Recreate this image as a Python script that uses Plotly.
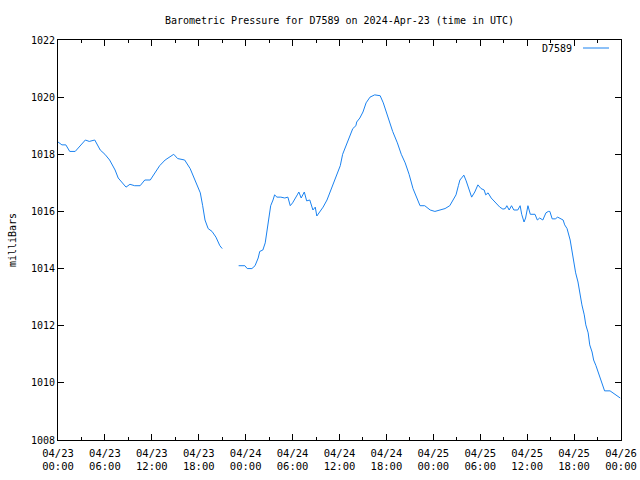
import plotly.graph_objects as go
import pandas as pd

# hours since 2024-04-23 00:00 UTC and pressure (mbar); None marks data gap
hours = [0, 0.5, 1.0, 1.5, 2.2, 2.8, 3.5, 4.0, 4.7, 5.4, 6.0, 6.6, 7.3, 7.7, 8.2, 8.7, 9.2, 9.8,
         10.5, 11.1, 11.8, 12.4, 13.0, 13.7, 14.3, 14.8, 15.3, 16.2, 16.9, 17.5, 18.2, 18.5,
         18.8, 19.2, 19.7, 20.2, 20.7, 21.0, 22.0,
         23.1, 23.9, 24.2, 24.8, 25.2, 25.6, 25.8, 26.2, 26.5, 26.7, 27.0, 27.2, 27.5, 27.7,
         28.0, 28.5, 29.0, 29.4, 29.7, 30.0, 30.6, 30.8, 31.1, 31.5, 31.8, 32.2, 32.6, 32.9,
         33.1, 33.5, 33.9, 34.4, 34.9, 35.4, 36.1, 36.4, 37.0, 37.3, 37.7, 38.1, 38.2, 38.6,
         39.0, 39.4, 39.9, 40.5, 41.2, 41.6, 42.1, 42.5, 42.8, 43.4, 43.9, 44.4, 44.9, 45.4,
         45.9, 46.3, 46.9, 47.6, 48.2, 48.8, 49.5, 50.1, 50.5, 50.9, 51.2, 51.4, 51.7, 51.9,
         52.2, 52.6, 52.9, 53.3, 53.7, 54.1, 54.5, 54.7, 55.0, 55.4, 55.9, 56.5, 56.9, 57.2,
         57.4, 57.7, 58.0, 58.3, 58.8, 59.1, 59.3, 59.6, 59.8, 60.1, 60.4, 61.0, 61.3, 61.6,
         62.0, 62.4, 62.7, 62.9, 63.2, 63.6, 63.9, 64.3, 64.6, 64.8, 65.1, 65.5, 65.7, 66.0,
         66.2, 66.5, 66.8, 67.0, 67.3, 67.5, 67.8, 68.0, 68.3, 68.5, 68.8, 69.0, 69.3, 69.5,
         69.9, 70.6, 71.2, 71.9]
pressure = [1018.43, 1018.33, 1018.33, 1018.1, 1018.1, 1018.3, 1018.5, 1018.45, 1018.5, 1018.15,
            1018.0, 1017.8, 1017.45, 1017.17, 1017.0, 1016.85, 1016.95, 1016.9, 1016.9, 1017.1,
            1017.1, 1017.35, 1017.6, 1017.8, 1017.9, 1018.0, 1017.85, 1017.8, 1017.5, 1017.1,
            1016.65, 1016.2, 1015.7, 1015.4, 1015.3, 1015.1, 1014.8, 1014.7, None,
            1014.1, 1014.1, 1014.0, 1014.0, 1014.1, 1014.37, 1014.6, 1014.65, 1014.9, 1015.3,
            1015.9, 1016.2, 1016.4, 1016.58, 1016.5, 1016.5, 1016.47, 1016.5, 1016.2, 1016.3,
            1016.58, 1016.68, 1016.47, 1016.68, 1016.37, 1016.4, 1016.05, 1016.15, 1015.84,
            1016.0, 1016.15, 1016.4, 1016.75, 1017.1, 1017.6, 1018.0, 1018.4, 1018.6, 1018.9,
            1019.0, 1019.13, 1019.27, 1019.48, 1019.8, 1020.0, 1020.08, 1020.05, 1019.8,
            1019.38, 1019.03, 1018.8, 1018.4, 1018.0, 1017.7, 1017.3, 1016.8, 1016.5, 1016.2,
            1016.2, 1016.05, 1016.0, 1016.05, 1016.1, 1016.2, 1016.4, 1016.58, 1016.9, 1017.1,
            1017.2, 1017.27, 1017.07, 1016.75, 1016.5, 1016.68, 1016.93, 1016.8, 1016.75,
            1016.58, 1016.65, 1016.47, 1016.33, 1016.15, 1016.08, 1016.1, 1016.2, 1016.05,
            1016.2, 1016.05, 1016.05, 1016.2, 1015.9, 1015.63, 1015.77, 1016.2, 1015.9, 1015.9,
            1015.7, 1015.77, 1015.7, 1015.95, 1016.0, 1016.0, 1015.74, 1015.74, 1015.8, 1015.74,
            1015.7, 1015.53, 1015.4, 1015.0, 1014.65, 1014.1, 1013.85, 1013.53, 1012.97,
            1012.73, 1012.38, 1012.03, 1011.75, 1011.33, 1011.08, 1010.8, 1010.6, 1010.45,
            1010.17, 1010.0, 1009.72, 1009.72, 1009.6, 1009.47]

start = pd.Timestamp("2024-04-23 00:00")
times = [start + pd.Timedelta(hours=h) for h in hours]

FONT = "DejaVu Sans Mono"
COLOR = "#1a82f0"
fig = go.Figure()
fig.add_trace(go.Scatter(x=times, y=pressure, mode="lines", name="D7589",
                         line=dict(color=COLOR, width=1), connectgaps=False))

fig.update_layout(
    width=640, height=480,
    margin=dict(l=58, r=19, t=40, b=40),
    paper_bgcolor="white", plot_bgcolor="white",
    font=dict(family=FONT, size=10, color="black"),
    title=dict(text="Barometric Pressure for D7589 on 2024-Apr-23 (time in UTC)",
               x=0.5, xref="paper", y=1 - 20 / 480, yanchor="middle",
               font=dict(family=FONT, size=10)),
    showlegend=False,
)
fig.update_xaxes(
    type="date", automargin=False,
    range=[start, start + pd.Timedelta(hours=72)],
    dtick=6 * 3600 * 1000, tick0=start,
    tickformat="%m/%d<br>%H:%M",
    ticks="inside", ticklen=6, tickcolor="black", ticklabelstandoff=3,
    minor=dict(dtick=3 * 3600 * 1000, ticks="inside", ticklen=3, tickcolor="black"),
    showline=True, linecolor="black", linewidth=1, mirror="allticks",
    showgrid=False, zeroline=False,
    tickfont=dict(family=FONT, size=10.5),
)
fig.update_yaxes(
    range=[1008, 1022], dtick=2, automargin=False,
    ticks="inside", ticklen=6, tickcolor="black",
    showline=True, linecolor="black", linewidth=1, mirror="allticks",
    showgrid=False, zeroline=False,
    title=dict(text="milliBars", font=dict(family=FONT, size=10), standoff=12),
    tickfont=dict(family=FONT, size=10),
)
# legend drawn as text + line sample in the upper right corner
fig.add_annotation(x=(574 - 58) / 563, y=(440 - 48) / 400, xref="x domain", yref="y domain",
                   text="D7589", showarrow=False,
                   xanchor="right", yanchor="middle", font=dict(family=FONT, size=10))
fig.add_shape(type="line", xref="x domain", yref="y domain",
              x0=(583 - 58) / 563, x1=(609 - 58) / 563,
              y0=(440 - 48) / 400, y1=(440 - 48) / 400,
              line=dict(color=COLOR, width=1))

fig.write_html("out.html")
